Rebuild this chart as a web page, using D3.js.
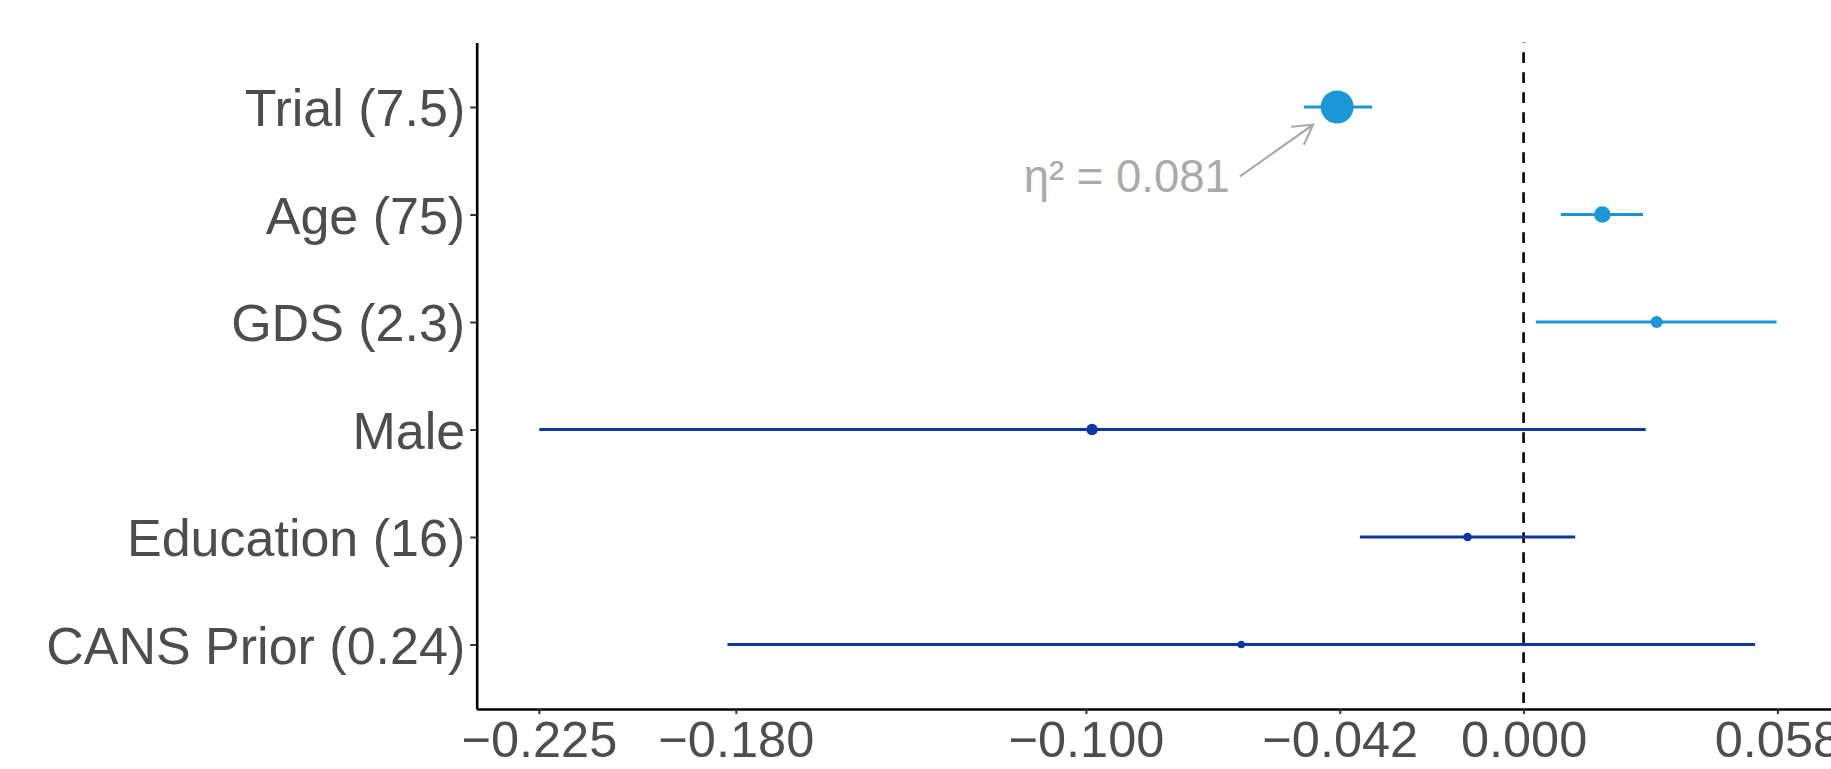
<!DOCTYPE html>
<html>
<head>
<meta charset="utf-8">
<script src="https://cdn.jsdelivr.net/npm/d3@7"></script>
<style>
  html, body { margin: 0; padding: 0; background: #fff; }
  svg { display: block; font-family: "Liberation Sans", Arial, sans-serif; }
</style>
</head>
<body>
<div id="chart"></div>
<script>
// forest plot values
const labels   = ["Trial (7.5)", "Age (75)", "GDS (2.3)", "Male", "Education (16)", "CANS Prior (0.24)"];
const estimate = [-0.0426, 0.0180, 0.0304, -0.0986, -0.0128, -0.0645];
const lower    = [-0.0502, 0.0085, 0.0028, -0.2249, -0.0374, -0.1819];
const upper    = [-0.0346, 0.0273, 0.0578, 0.0279, 0.0118, 0.0529];
const etaSq    = [0.081, 0.0205, 0.0107, 0.0100, 0.0055, 0.0043];
const xTicks   = [-0.225, -0.180, -0.100, -0.042, 0.000, 0.058];
const xLimits  = [-0.2392, 0.0723];
const note     = {text: "η² = 0.081", x: -0.0671, row: 0.645, arrowFrom: -0.0648, arrowTo: -0.0481, arrowRow: 0.165};

const W = 1831, H = 769;
const data = labels.map((l, i) => ({label: l, est: estimate[i], lo: lower[i], hi: upper[i], eta: etaSq[i]}));

const x = d3.scaleLinear().domain(xLimits).range([476.7, 1840]);
const y = d3.scalePoint().domain(labels).range([42.5, 709]).padding(0.6);
const r = d3.scaleSqrt().domain([0, 0.081]).range([0, 16.5]);
const color = d => (d.lo > 0 || d.hi < 0) ? "#1b97d5" : "#0c379e";

const svg = d3.select("#chart").append("svg")
  .attr("width", W).attr("height", H)
  .attr("viewBox", [0, 0, W, H]);

const [yTop, yBottom] = y.range();

// zero reference
svg.append("line")
  .attr("x1", x(0)).attr("x2", x(0))
  .attr("y1", yTop).attr("y2", yBottom)
  .attr("stroke", "#000").attr("stroke-width", 2.6)
  .attr("stroke-dasharray", "10.7,9.3")
  .attr("stroke-dashoffset", 10.3);

// intervals
svg.append("g").selectAll("line")
  .data(data)
  .join("line")
    .attr("x1", d => x(d.lo)).attr("x2", d => x(d.hi))
    .attr("y1", d => y(d.label)).attr("y2", d => y(d.label))
    .attr("stroke", color).attr("stroke-width", 3);

svg.append("g").selectAll("circle")
  .data(data)
  .join("circle")
    .attr("cx", d => x(d.est)).attr("cy", d => y(d.label))
    .attr("r", d => r(d.eta))
    .attr("fill", color);

// axes
const gx = svg.append("g").attr("transform", `translate(0,${yBottom})`)
  .call(d3.axisBottom(x).tickValues(xTicks).tickFormat(d3.format(".3f")).tickSize(5).tickPadding(7).tickSizeOuter(0));
gx.select(".domain").attr("stroke", "#000").attr("stroke-width", 2.6);
gx.selectAll(".tick line").attr("stroke", "#333").attr("stroke-width", 2);
gx.selectAll(".tick text").attr("fill", "#4d4d4d").style("font-size", "50.5px")
  .attr("font-family", "Liberation Sans, Arial, sans-serif");

const gy = svg.append("g").attr("transform", `translate(${x.range()[0]},0)`)
  .call(d3.axisLeft(y).tickSize(6.5).tickPadding(5).tickSizeOuter(0));
gy.select(".domain").attr("stroke", "#000").attr("stroke-width", 2.6);
gy.selectAll(".tick line").attr("stroke", "#333").attr("stroke-width", 2);
gy.selectAll(".tick text").attr("fill", "#4d4d4d").attr("dy", "0.36em").style("font-size", "52px")
  .attr("font-family", "Liberation Sans, Arial, sans-serif");

// annotation
const step = y.step();
const ty = y(labels[0]) + note.row * step;
svg.append("text")
  .attr("x", x(note.x)).attr("y", ty).attr("dy", "0.34em")
  .attr("text-anchor", "end")
  .attr("fill", "#aaaaaa").style("font-size", "45.5px")
  .text(note.text);

const x1 = x(note.arrowFrom), y1 = ty;
const x2 = x(note.arrowTo), y2 = y(labels[0]) + note.arrowRow * step;
const ang = Math.atan2(y2 - y1, x2 - x1);
const len = 22, spread = Math.PI / 6;
const head = [ang + Math.PI - spread, ang + Math.PI + spread]
  .map(a => [x2 + len * Math.cos(a), y2 + len * Math.sin(a)]);
svg.append("path")
  .attr("d", `M${x1},${y1}L${x2},${y2}M${head[0]}L${x2},${y2}L${head[1]}`)
  .attr("fill", "none").attr("stroke", "#aaaaaa").attr("stroke-width", 2.2)
  .attr("stroke-linejoin", "miter");
</script>
</body>
</html>
